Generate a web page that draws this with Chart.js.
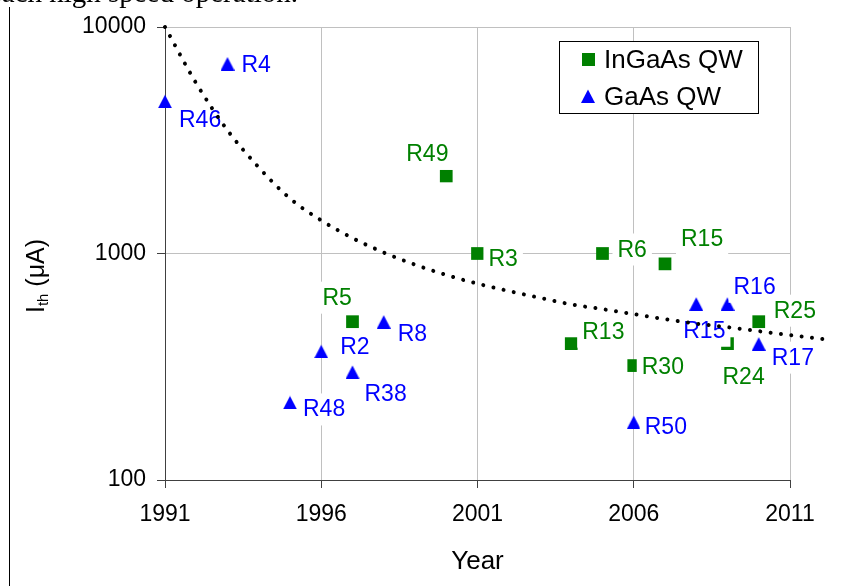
<!DOCTYPE html>
<html>
<head>
<meta charset="utf-8">
<script src="https://cdn.jsdelivr.net/npm/chart.js@4.4.1/dist/chart.umd.min.js"></script>
<style>
body{margin:0;background:#fff;}
#wrap{position:relative;width:851px;height:586px;overflow:hidden;}
#texto{position:absolute;right:553px;top:-22px;font:29px/29px "Liberation Serif","Times New Roman",serif;white-space:nowrap;color:#000;}
#linha{position:absolute;left:9px;top:7px;width:1px;height:579px;background:#000;}
canvas{position:absolute;left:0;top:0;}
</style>
</head>
<body>
<div id="wrap">
<canvas class="chart" width="851" height="586"></canvas>
<div id="texto">each high speed operation.</div>
<div id="linha"></div>
</div>
<script>
var anosInGaAs = [1997, 2000, 2001, 2004, 2005, 2006, 2007, 2009, 2010]
var ithInGaAs = [500, 2200, 1000, 400, 1000, 320, 900, 400, 500]
var refInGaAs = ['R5', 'R49', 'R3', 'R13', 'R6', 'R30', 'R15', 'R24', 'R25']

var anosGaAs = [1991, 1993, 1995, 1996, 1997, 1998, 2006, 2008, 2009, 2010]
var ithGaAs = [4700, 6900, 220, 370, 300, 500, 180, 600, 600, 400]
var refGaAs = ['R46', 'R4', 'R48', 'R2', 'R38', 'R8', 'R50', 'R15', 'R16', 'R17']

// linha de tendencia
var anosTendencia = [1991, 1992, 1993, 1994, 1995, 1996, 1997, 1998, 1999, 2000, 2001,
    2002, 2003, 2004, 2005, 2006, 2007, 2008, 2009, 2010, 2011, 2012.2]
var ithTendencia = [10000, 5640, 3500, 2400, 1750, 1400, 1170, 1010, 893, 804, 736,
    683, 637, 596, 568, 540, 513, 490, 473, 454, 436, 417]

var xTicks = [1991, 1996, 2001, 2006, 2011]
var yTicks = [100, 1000, 10000]

// posicao dos rotulos em relacao ao ponto (px)
var deslocInGaAs = [[-30,-25],[-40,-23],[11,4],[11,-13],[15,-5],[8,0],[16,-26],[-5,32],[15,-12]]
var deslocGaAs = [[14,18],[14,0],[13,6],[19,-5],[12,21],[14,11],[11,4],[-13,26],[6,-18],[13,13]]

var fonte = '"Liberation Sans", Arial, sans-serif'

function pares(xs, ys) {
    return xs.map(function (x, i) { return {x: x, y: ys[i]} })
}

// triangulo centrado pela caixa, como no excel
var triangulo = document.createElement('canvas')
triangulo.width = 14
triangulo.height = 14
var t = triangulo.getContext('2d')
t.fillStyle = '#0000ff'
t.beginPath()
t.moveTo(7, 0.5)
t.lineTo(14, 14)
t.lineTo(0, 14)
t.closePath()
t.fill()

var rotulos = {
    id: 'rotulos',
    beforeDatasetDraw: function (chart, args) {
        if (args.index !== 2) return
        var c = chart.ctx
        c.save()
        c.font = '23px ' + fonte
        c.textBaseline = 'alphabetic'
        function desenha(i, refs, desl, cor) {
            chart.getDatasetMeta(i).data.forEach(function (p, k) {
                var x = p.x + desl[k][0], y = p.y + desl[k][1]
                var w = c.measureText(refs[k]).width
                c.fillStyle = '#fff'
                c.fillRect(x - 5, y - 15, w + 10, 32)
                c.fillStyle = cor
                c.fillText(refs[k], x, y + 8)
            })
        }
        desenha(1, refGaAs, deslocGaAs, '#0000ff')
        desenha(0, refInGaAs, deslocInGaAs, '#008000')
        c.restore()
    },
    afterDraw: function (chart) {
        var c = chart.ctx
        c.save()
        // legenda
        c.fillStyle = '#fff'
        c.fillRect(559.5, 41.5, 199, 72)
        c.strokeStyle = '#000'
        c.lineWidth = 1
        c.strokeRect(559.5, 41.5, 199, 72)
        c.fillStyle = '#008000'
        c.fillRect(582, 53, 13, 13)
        c.drawImage(triangulo, 581, 89)
        c.fillStyle = '#000'
        c.font = '26px ' + fonte
        c.fillText(chart.data.datasets[0].label, 604, 68)
        c.fillText(chart.data.datasets[1].label, 604, 105)
        // titulo do eixo y
        c.translate(44, 276)
        c.rotate(-Math.PI / 2)
        c.font = '25px ' + fonte
        var wI = c.measureText('I').width
        var wR = c.measureText(' (μA)').width
        c.font = '15px ' + fonte
        var wT = c.measureText('th').width
        var x0 = -(wI + wT + wR) / 2
        c.font = '25px ' + fonte
        c.fillText('I', x0, 0)
        c.fillText(' (μA)', x0 + wI + wT, 0)
        c.font = '15px ' + fonte
        c.fillText('th', x0 + wI, 4)
        c.restore()
    }
}

var ctx = document.getElementsByClassName('chart')[0]

var grafico = new Chart(ctx, {
    type: 'scatter',
    data: {
        datasets: [{
            label: 'InGaAs QW',
            data: pares(anosInGaAs, ithInGaAs),
            pointStyle: 'rect',
            pointRadius: 9,
            pointBorderWidth: 0,
            pointBackgroundColor: '#008000',
            pointBorderColor: '#008000',
            order: 1
        }, {
            label: 'GaAs QW',
            data: pares(anosGaAs, ithGaAs),
            pointStyle: triangulo,
            pointRadius: 8,
            pointBorderWidth: 0,
            pointBackgroundColor: '#0000ff',
            pointBorderColor: '#0000ff',
            order: 1
        }, {
            label: 'tendencia',
            data: pares(anosTendencia, ithTendencia),
            showLine: true,
            pointRadius: 0,
            borderColor: '#000',
            borderWidth: 4,
            borderDash: [0.01, 10.4],
            borderCapStyle: 'round',
            cubicInterpolationMode: 'monotone',
            clip: false,
            order: 0
        }]
    },
    options: {
        responsive: false,
        animation: false,
        events: [],
        layout: {padding: {top: 27, right: 61, left: 0, bottom: 0}},
        plugins: {legend: {display: false}, tooltip: {enabled: false}},
        scales: {
            x: {
                type: 'linear',
                bounds: 'data',
                afterDataLimits: function (s) { s.min = 1991; s.max = 2011 },
                afterBuildTicks: function (s) {
                    s.min = 1991
                    s.max = 2011
                    s.ticks = xTicks.map(function (v) { return {value: v} })
                },
                afterFit: function (s) { s.height = 106 },
                grid: {color: '#c0c0c0', tickColor: '#404040', tickLength: 8},
                border: {color: '#404040'},
                ticks: {color: '#000', font: {size: 23, family: fonte}, padding: 13, maxRotation: 0,
                    callback: function (v) { return String(v) }},
                title: {display: true, text: 'Year', color: '#000', font: {size: 26, family: fonte},
                    padding: {top: 0, bottom: 9}}
            },
            y: {
                type: 'logarithmic',
                min: 100,
                max: 10000,
                afterBuildTicks: function (s) { s.ticks = yTicks.map(function (v) { return {value: v} }) },
                afterFit: function (s) { s.width = 165 },
                grid: {color: '#c0c0c0', tickColor: '#404040', tickLength: 8},
                border: {color: '#404040'},
                ticks: {color: '#000', font: {size: 23, family: fonte}, padding: 11,
                    callback: function (v) { return String(v) }}
            }
        }
    },
    plugins: [rotulos]
})
</script>
</body>
</html>
